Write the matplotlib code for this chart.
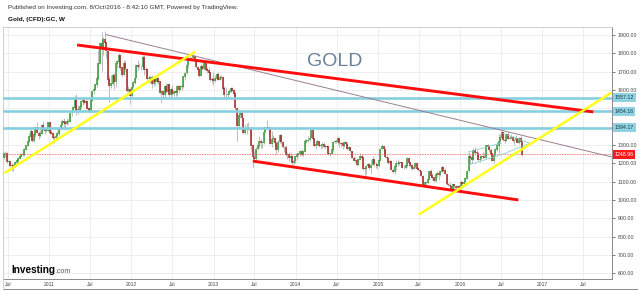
import matplotlib
matplotlib.use("Agg")
import matplotlib.pyplot as plt
import matplotlib.transforms as mtransforms
from matplotlib.lines import Line2D
import pandas as pd

plt.rcParams["font.family"] = ["Liberation Sans", "DejaVu Sans"]

# weekly gold candles, week of 2010-06-14 to week of 2016-10-03
FIRST_WEEK = "2010-06-14"
FIRST_OPEN = 1229
LAST_PRICE = 1248.96

CLOSE_2010 = [1256, 1256, 1208, 1210, 1189, 1189, 1181, 1204, 1215, 1227, 1236, 1247, 1246, 1276, 1297,
              1318, 1346, 1372, 1325, 1358, 1397, 1366, 1352, 1362, 1406, 1385, 1378, 1380, 1421]
HIGH_2010 = [1262, 1266, 1262, 1217, 1215, 1202, 1194, 1211, 1226, 1232, 1241, 1256, 1259, 1283, 1301,
             1321, 1365, 1388, 1378, 1361, 1398, 1424, 1377, 1382, 1412, 1432, 1393, 1392, 1424]
LOW_2010 = [1225, 1236, 1200, 1190, 1177, 1157, 1158, 1180, 1192, 1209, 1221, 1232, 1237, 1240, 1272,
            1296, 1316, 1340, 1316, 1318, 1345, 1363, 1330, 1345, 1360, 1380, 1362, 1371, 1378]

CLOSE_2011 = [1369, 1361, 1342, 1341, 1348, 1361, 1388, 1409, 1429, 1421, 1418, 1429, 1429, 1474, 1486,
              1504, 1556, 1491, 1492, 1510, 1536, 1542, 1529, 1539, 1500, 1483, 1541, 1593, 1601, 1628,
              1663, 1743, 1852, 1828, 1876, 1857, 1813, 1658, 1622, 1635, 1681, 1642, 1745, 1756, 1788,
              1723, 1685, 1745, 1713, 1597, 1606, 1566]
HIGH_2011 = [1423, 1392, 1373, 1349, 1362, 1375, 1391, 1420, 1440, 1445, 1434, 1447, 1439, 1476, 1490,
             1510, 1566, 1577, 1515, 1525, 1538, 1551, 1550, 1548, 1542, 1508, 1546, 1595, 1610, 1632,
             1684, 1817, 1860, 1917, 1890, 1923, 1863, 1815, 1678, 1680, 1694, 1692, 1747, 1765, 1803,
             1794, 1725, 1764, 1761, 1722, 1620, 1612]
LOW_2011 = [1360, 1357, 1332, 1309, 1330, 1341, 1354, 1379, 1405, 1399, 1383, 1407, 1416, 1425, 1456,
            1484, 1498, 1462, 1470, 1483, 1504, 1516, 1523, 1516, 1498, 1478, 1480, 1538, 1580, 1598,
            1615, 1653, 1742, 1704, 1789, 1822, 1773, 1635, 1535, 1610, 1627, 1604, 1617, 1717, 1752,
            1708, 1672, 1680, 1705, 1590, 1587, 1523]

CLOSE_2012 = [1617, 1639, 1665, 1737, 1725, 1725, 1726, 1776, 1710, 1712, 1659, 1662, 1669, 1631, 1660,
              1642, 1663, 1645, 1585, 1592, 1573, 1622, 1591, 1628, 1572, 1604, 1579, 1591, 1582, 1618,
              1603, 1621, 1616, 1673, 1692, 1737, 1772, 1773, 1773, 1781, 1759, 1724, 1712, 1677, 1731,
              1714, 1751, 1712, 1705, 1696, 1658, 1656]
HIGH_2012 = [1626, 1650, 1672, 1740, 1764, 1746, 1734, 1790, 1791, 1723, 1718, 1680, 1677, 1680, 1678,
             1666, 1667, 1672, 1646, 1600, 1596, 1628, 1640, 1632, 1630, 1608, 1627, 1596, 1600, 1625,
             1625, 1627, 1628, 1675, 1698, 1740, 1778, 1787, 1781, 1798, 1790, 1763, 1729, 1720, 1740,
             1738, 1754, 1755, 1723, 1723, 1700, 1671]
LOW_2012 = [1562, 1610, 1632, 1663, 1710, 1717, 1707, 1722, 1682, 1690, 1642, 1640, 1642, 1612, 1623,
            1627, 1637, 1633, 1575, 1527, 1548, 1553, 1585, 1588, 1560, 1550, 1565, 1566, 1566, 1569,
            1590, 1600, 1601, 1612, 1654, 1688, 1720, 1760, 1761, 1769, 1752, 1720, 1701, 1671, 1676,
            1709, 1710, 1706, 1690, 1690, 1650, 1635]

CLOSE_2013 = [1649, 1662, 1687, 1657, 1667, 1667, 1609, 1572, 1572, 1578, 1592, 1608, 1596, 1581, 1501,
              1405, 1462, 1470, 1448, 1365, 1387, 1392, 1383, 1388, 1297, 1234, 1223, 1278, 1296, 1322,
              1310, 1313, 1371, 1396, 1396, 1387, 1308, 1333, 1338, 1310, 1272, 1315, 1352, 1316, 1288,
              1289, 1244, 1250, 1231, 1236, 1203, 1213]
HIGH_2013 = [1695, 1679, 1693, 1695, 1679, 1684, 1676, 1619, 1617, 1591, 1607, 1617, 1616, 1605, 1591,
             1503, 1475, 1488, 1488, 1450, 1416, 1419, 1424, 1398, 1397, 1300, 1268, 1290, 1299, 1348,
             1330, 1320, 1375, 1397, 1434, 1403, 1391, 1375, 1355, 1340, 1324, 1327, 1361, 1361, 1323,
             1295, 1299, 1264, 1259, 1262, 1246, 1222]
LOW_2013 = [1626, 1643, 1655, 1653, 1652, 1657, 1603, 1554, 1562, 1562, 1571, 1591, 1593, 1539, 1491,
            1321, 1396, 1447, 1430, 1359, 1358, 1361, 1379, 1371, 1269, 1180, 1207, 1212, 1270, 1283,
            1282, 1281, 1305, 1366, 1385, 1359, 1305, 1291, 1318, 1293, 1251, 1261, 1311, 1306, 1282,
            1262, 1238, 1221, 1210, 1220, 1186, 1196]

CLOSE_2014 = [1238, 1248, 1254, 1265, 1244, 1263, 1318, 1324, 1326, 1339, 1379, 1334, 1294, 1303, 1318,
              1293, 1300, 1302, 1290, 1293, 1292, 1250, 1252, 1275, 1316, 1320, 1320, 1337, 1310, 1307,
              1294, 1312, 1305, 1280, 1287, 1267, 1229, 1216, 1218, 1192, 1222, 1238, 1231, 1172, 1169,
              1186, 1197, 1175, 1191, 1222, 1195, 1195]
HIGH_2014 = [1240, 1251, 1255, 1270, 1279, 1269, 1321, 1332, 1346, 1355, 1381, 1392, 1336, 1310, 1332,
             1324, 1306, 1316, 1318, 1305, 1297, 1295, 1258, 1278, 1321, 1327, 1332, 1345, 1340, 1317,
             1312, 1323, 1322, 1315, 1292, 1290, 1269, 1239, 1236, 1221, 1226, 1255, 1252, 1233, 1176,
             1192, 1203, 1202, 1221, 1238, 1225, 1206]
LOW_2014 = [1204, 1220, 1236, 1238, 1240, 1240, 1262, 1311, 1318, 1320, 1336, 1325, 1291, 1277, 1299,
            1291, 1276, 1281, 1285, 1284, 1282, 1244, 1240, 1249, 1262, 1309, 1311, 1306, 1291, 1287,
            1280, 1290, 1292, 1274, 1278, 1262, 1228, 1214, 1207, 1183, 1189, 1221, 1225, 1161, 1132,
            1141, 1179, 1166, 1143, 1188, 1187, 1173]

CLOSE_2015 = [1186, 1216, 1277, 1293, 1278, 1234, 1228, 1204, 1213, 1164, 1153, 1182, 1199, 1200, 1205,
              1203, 1175, 1175, 1188, 1225, 1205, 1189, 1172, 1180, 1201, 1172, 1163, 1158, 1131, 1085,
              1094, 1094, 1113, 1159, 1133, 1121, 1103, 1139, 1145, 1137, 1156, 1177, 1162, 1142, 1088,
              1081, 1076, 1057, 1084, 1075, 1065, 1076]
HIGH_2015 = [1198, 1223, 1282, 1307, 1296, 1284, 1245, 1236, 1220, 1218, 1174, 1186, 1219, 1223, 1212,
             1209, 1207, 1190, 1195, 1232, 1231, 1209, 1197, 1191, 1205, 1205, 1178, 1170, 1159, 1134,
             1106, 1098, 1126, 1163, 1170, 1146, 1124, 1144, 1157, 1146, 1160, 1191, 1178, 1174, 1144,
             1095, 1097, 1081, 1088, 1088, 1082, 1082]
LOW_2015 = [1168, 1182, 1212, 1270, 1250, 1227, 1216, 1195, 1196, 1162, 1147, 1142, 1166, 1183, 1191,
            1183, 1172, 1168, 1169, 1182, 1200, 1180, 1162, 1168, 1172, 1169, 1156, 1147, 1127, 1077,
            1077, 1083, 1088, 1112, 1121, 1110, 1098, 1097, 1127, 1111, 1130, 1151, 1155, 1140, 1085,
            1074, 1063, 1052, 1046, 1061, 1047, 1062]

CLOSE_2016 = [1061, 1097, 1090, 1098, 1118, 1158, 1239, 1230, 1222, 1271, 1259, 1255, 1217, 1223, 1240,
              1235, 1231, 1296, 1291, 1273, 1252, 1213, 1244, 1275, 1298, 1322, 1340, 1367, 1328, 1322,
              1357, 1336, 1337, 1341, 1322, 1327, 1334, 1310, 1339, 1316, 1249]
HIGH_2016 = [1082, 1111, 1101, 1110, 1127, 1161, 1263, 1243, 1263, 1281, 1287, 1272, 1256, 1243, 1246,
             1263, 1255, 1298, 1306, 1295, 1281, 1257, 1245, 1284, 1315, 1362, 1360, 1377, 1370, 1334,
             1366, 1368, 1351, 1357, 1349, 1333, 1353, 1336, 1344, 1346, 1326]
LOW_2016 = [1060, 1056, 1078, 1085, 1093, 1112, 1150, 1197, 1201, 1220, 1243, 1227, 1210, 1206, 1221,
            1227, 1227, 1228, 1278, 1263, 1250, 1212, 1200, 1240, 1267, 1257, 1310, 1335, 1322, 1310,
            1320, 1335, 1330, 1332, 1317, 1301, 1322, 1309, 1305, 1311, 1241]

# horizontal levels drawn on the chart and the values printed in their tags
LEVELS = [1557.12, 1484, 1394.17]
LEVEL_TAGS = ["1557.12", "1454.16", "1394.17"]

# hand-drawn trend lines: (start date, price), (end date, price)
RED_LINES = [
    (("2011-05-05", 1845), ("2017-08-15", 1480)),
    (("2013-06-24", 1212), ("2016-09-16", 1000)),
]
YELLOW_LINES = [
    (("2010-06-17", 1147), ("2012-10-12", 1809)),
    (("2015-07-01", 920), ("2017-11-06", 1587)),
]
MAUVE_LINE = (("2011-09-09", 1902), ("2017-11-06", 1234))
TEAL_LINES = [
    (("2016-02-06", 1262), ("2016-07-02", 1310)),
    (("2016-02-06", 1190), ("2016-07-14", 1252)),
    (("2016-07-08", 1364), ("2016-11-06", 1309)),
    (("2016-07-14", 1252), ("2016-11-06", 1309)),
]

Y_TICKS = list(range(600, 2000, 100))
HIDDEN_Y_TICKS = [1400, 1500]   # covered by the level tags on the price scale
X_TICKS = pd.date_range("2010-07-01", "2017-07-01", freq="6MS")

UP = "#379b37"
DOWN = "#a82424"


def px_to_fig(x, y):
    return x / 640, 1 - y / 291


def draw_segment(ax, seg, **style):
    (d0, p0), (d1, p1) = seg
    ax.plot([pd.Timestamp(d0), pd.Timestamp(d1)], [p0, p1], solid_capstyle="butt", **style)


def main():
    closes = CLOSE_2010 + CLOSE_2011 + CLOSE_2012 + CLOSE_2013 + CLOSE_2014 + CLOSE_2015 + CLOSE_2016
    highs = HIGH_2010 + HIGH_2011 + HIGH_2012 + HIGH_2013 + HIGH_2014 + HIGH_2015 + HIGH_2016
    lows = LOW_2010 + LOW_2011 + LOW_2012 + LOW_2013 + LOW_2014 + LOW_2015 + LOW_2016
    opens = [FIRST_OPEN] + closes[:-1]
    weeks = pd.date_range(FIRST_WEEK, periods=len(closes), freq="W-MON")

    fig = plt.figure(figsize=(6.4, 2.91), dpi=100)
    x0, y0 = px_to_fig(3, 279)
    x1, y1 = px_to_fig(612, 27)
    ax = fig.add_axes([x0, y0, x1 - x0, y1 - y0])

    ax.set_xlim(pd.Timestamp("2010-06-10"), pd.Timestamp("2017-11-06"))
    ax.set_ylim(569, 1943)

    ax.set_yticks(Y_TICKS)
    ax.set_yticklabels(["" if v in HIDDEN_Y_TICKS else f"{v:.2f}" for v in Y_TICKS])
    ax.set_xticks(X_TICKS)
    ax.set_xticklabels(["Jul" if d.month == 7 else str(d.year) for d in X_TICKS])
    ax.yaxis.tick_right()
    ax.tick_params(axis="y", labelsize=3.8, colors="#444444", length=2, width=0.5, pad=2)
    ax.tick_params(axis="x", labelsize=3.6, colors="#444444", length=0, pad=2.5)
    ax.grid(color="#ebebeb", linewidth=0.6)
    ax.set_axisbelow(True)

    for side in ["left", "top"]:
        ax.spines[side].set_color("#c8c8c8")
        ax.spines[side].set_linewidth(0.6)
    for side in ["right", "bottom"]:
        ax.spines[side].set_color("#8a8a8a")
        ax.spines[side].set_linewidth(0.7)

    # candles
    wick_lo = [min(l, o, c) for l, o, c in zip(lows, opens, closes)]
    wick_hi = [max(h, o, c) for h, o, c in zip(highs, opens, closes)]
    ax.vlines(weeks, wick_lo, wick_hi, color="#9a9a9a", linewidth=0.45, zorder=2)
    colors = [UP if c >= o else DOWN for o, c in zip(opens, closes)]
    body_lo = [min(o, c) - 1.5 for o, c in zip(opens, closes)]
    body_hi = [max(o, c) + 1.5 for o, c in zip(opens, closes)]
    ax.vlines(weeks, body_lo, body_hi, colors=colors, linewidth=1.1, zorder=3)

    # levels
    tag_trans = mtransforms.blended_transform_factory(ax.transAxes, ax.transData)
    for level, tag in zip(LEVELS, LEVEL_TAGS):
        ax.axhline(level, color="#86cfe0", linewidth=1.9, zorder=4)
        ax.text(1.004, level, tag, transform=tag_trans, ha="left", va="center",
                fontsize=3.8, color="#1d3b44", clip_on=False, zorder=6,
                bbox=dict(boxstyle="square,pad=0.35", fc="#8fd3e3", ec="none"))

    ax.axhline(LAST_PRICE, color="#ff4d4d", linewidth=0.6, linestyle=(0, (1, 1)), zorder=4)
    ax.text(1.004, LAST_PRICE, f"{LAST_PRICE:.2f}", transform=tag_trans, ha="left", va="center",
            fontsize=3.8, color="white", clip_on=False, zorder=6,
            bbox=dict(boxstyle="square,pad=0.35", fc="#ff1a1a", ec="none"))

    # trend lines
    draw_segment(ax, MAUVE_LINE, color="#9c7f8e", linewidth=0.7, zorder=5)
    for seg in TEAL_LINES:
        draw_segment(ax, seg, color="#7fcdc8", linewidth=0.55, zorder=5)
    for seg in RED_LINES:
        draw_segment(ax, seg, color="#ff0d0d", linewidth=2.1, zorder=5)
    for seg in YELLOW_LINES:
        draw_segment(ax, seg, color="#ffff1a", linewidth=1.8, zorder=5)

    ax.text((335 - 3) / 609, (279 - 62) / 252, "GOLD", transform=ax.transAxes,
            ha="center", va="center", fontsize=14, color="#6a819b", zorder=6)

    # header and logo
    fx, fy = px_to_fig(8, 8)
    fig.text(fx, fy, "Published on Investing.com, 8/Oct/2016 - 8:42:10 GMT, Powered by TradingView.",
             fontsize=4.6, color="#333333", va="center")
    fx, fy = px_to_fig(8, 19)
    fig.text(fx, fy, "Gold, (CFD):GC, W", fontsize=4.6, color="#111111", weight="bold", va="center")
    fx, fy = px_to_fig(11, 273)
    fig.text(fx, fy, "Investing", fontsize=7.2, color="black", weight="bold", va="baseline")
    fx, fy = px_to_fig(55, 273)
    fig.text(fx, fy, ".com", fontsize=5, color="#555555", va="baseline")

    # frame around the time scale strip
    bx0, by = px_to_fig(3, 289)
    bx1, _ = px_to_fig(637, 289)
    fig.add_artist(Line2D([bx0, bx1], [by, by], color="#8a8a8a", linewidth=0.7))
    fig.add_artist(Line2D([bx0, bx0], [by, y0], color="#c8c8c8", linewidth=0.6))

    fig.savefig("out.png", dpi=100)
    plt.close(fig)


if __name__ == "__main__":
    main()
